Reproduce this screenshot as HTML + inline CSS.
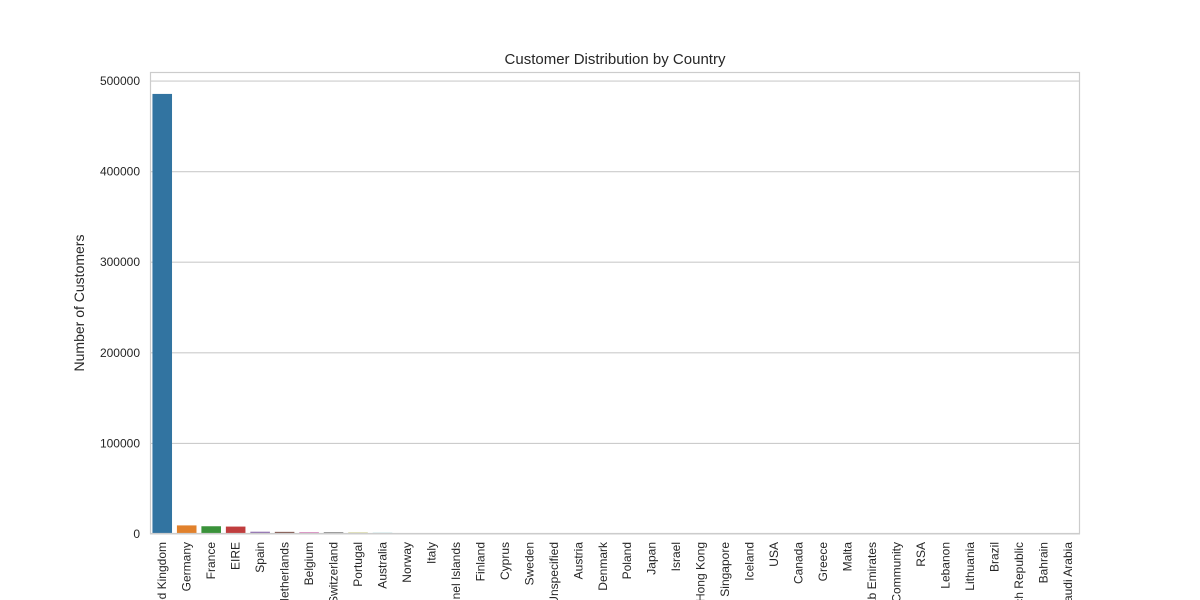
<!DOCTYPE html>
<html><head><meta charset="utf-8"><style>
html,body{margin:0;background:#fff;width:1200px;height:600px;overflow:hidden}
svg{display:block;font-family:"Liberation Sans","DejaVu Sans",sans-serif;overflow:hidden}
</style></head><body>
<svg id="chart" width="1200" height="600">
<text x="615" y="64" text-anchor="middle" font-size="15" fill="#262626">Customer Distribution by Country</text>
<text transform="translate(84,303) rotate(-90)" text-anchor="middle" font-size="14" fill="#262626">Number of Customers</text>
<g id="grid"></g><g id="bars"></g><g id="yticks"></g><g id="xticks"></g>
<rect x="150.5" y="72.5" width="929" height="461" fill="none" stroke="#cccccc" stroke-width="1.2"/>
</svg>
<script>
const categories=["United Kingdom","Germany","France","EIRE","Spain","Netherlands","Belgium","Switzerland","Portugal","Australia","Norway","Italy","Channel Islands","Finland","Cyprus","Sweden","Unspecified","Austria","Denmark","Poland","Japan","Israel","Hong Kong","Singapore","Iceland","USA","Canada","Greece","Malta","United Arab Emirates","European Community","RSA","Lebanon","Lithuania","Brazil","Czech Republic","Bahrain","Saudi Arabia"];
const values=[485800,9495,8557,8196,2533,2371,2069,2002,1519,1259,1086,803,758,695,622,462,446,401,389,341,358,297,288,229,182,291,151,146,127,68,61,58,45,35,32,30,19,10];
const yTicks=[0,100000,200000,300000,400000,500000];
const palette=["#3274a1","#e1812c","#3a923a","#c03d3e","#9372b2","#845b53","#d684bd","#7f7f7f","#a9aa35","#2d9fa6"];
const ns="http://www.w3.org/2000/svg";
const x0=150,x1=1080,yTop=72,yBot=534,yMax=510000;
const y=v=>yBot-(v/yMax)*(yBot-yTop);
const bw=(x1-x0)/categories.length;
const xc=i=>x0+bw*(i+0.5);
function mk(t,a,p){const e=document.createElementNS(ns,t);for(const k in a)e.setAttribute(k,a[k]);document.getElementById(p).appendChild(e);return e;}
yTicks.forEach(v=>{
 const l=mk("line",{x1:x0,x2:x1,y1:y(v),y2:y(v),stroke:"#cccccc","stroke-width":1.1},"grid");
 
 
 const t=mk("text",{x:140,y:y(v)+4,"text-anchor":"end","font-size":12,fill:"#262626"},"yticks");
 t.textContent=v;
 
 
});
categories.forEach((c,i)=>{
 const r=mk("rect",{x:xc(i)-bw*0.4,y:y(values[i]),width:bw*0.8,height:yBot-y(values[i]),fill:palette[i%10]},"bars");
 
 
 const t=mk("text",{transform:`translate(${xc(i)+4},542) rotate(-90)`,"text-anchor":"end","font-size":12,fill:"#262626"},"xticks");
 t.textContent=c;
 
 
});
</script>
</body></html>
